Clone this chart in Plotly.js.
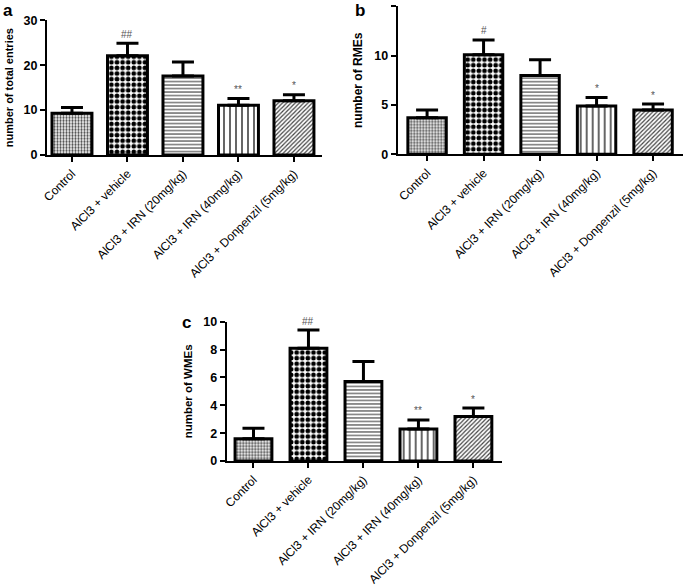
<!DOCTYPE html>
<html>
<head>
<meta charset="utf-8">
<script src="https://cdn.plot.ly/plotly-3.0.1.min.js"></script>
<style>
html,body{margin:0;padding:0;background:#fff;}
#chart{width:685px;height:585px;}
</style>
</head>
<body>
<div id="chart"></div>
<script>
// ---- data ----
const categories = ["Control", "AlCl3 + vehicle", "AlCl3 + IRN (20mg/kg)", "AlCl3 + IRN (40mg/kg)", "AlCl3 + Donpenzil (5mg/kg)"];
const totalEntries = [9.3, 22.1, 17.6, 11.1, 12.1];
const totalEntriesSem = [1.3, 2.8, 3.1, 1.5, 1.3];
const rmes = [3.7, 10.1, 8.0, 4.9, 4.5];
const rmesSem = [0.8, 1.5, 1.6, 0.85, 0.6];
const wmes = [1.6, 8.1, 5.7, 2.3, 3.2];
const wmesSem = [0.75, 1.3, 1.45, 0.65, 0.6];
const signifA = ["", "##", "", "**", "*"];
const signifB = ["", "#", "", "*", "*"];
const signifC = ["", "##", "", "**", "*"];
const panelLetters = ["a", "b", "c"];
const yTitles = ["number of total entries", "number of RMEs", "number of WMEs"];

// ---- styling ----
const FONT = "Liberation Sans, Arial, sans-serif";
const patterns = [
  {shape: ".", size: 3, solidity: 0.45, fgcolor: "#444", bgcolor: "#fff"},
  {shape: ".", size: 5.6, solidity: 0.55, fgcolor: "#000", bgcolor: "#fff"},
  {shape: "-", size: 3.5, solidity: 0.35, fgcolor: "#555", bgcolor: "#fff"},
  {shape: "|", size: 6, solidity: 0.2, fgcolor: "#000", bgcolor: "#fff"},
  {shape: "/", size: 3, solidity: 0.4, fgcolor: "#444", bgcolor: "#fff"}
];

const panels = [
  {vals: totalEntries, sem: totalEntriesSem, sig: signifA, xs: "x", ys: "y", width: 0.72},
  {vals: rmes, sem: rmesSem, sig: signifB, xs: "x2", ys: "y2", width: 0.68},
  {vals: wmes, sem: wmesSem, sig: signifC, xs: "x3", ys: "y3", width: 0.67}
];

const traces = [];
const annotations = [];
panels.forEach((p, pi) => {
  categories.forEach((c, i) => {
    traces.push({
      type: "bar",
      x: [c], y: [p.vals[i]],
      xaxis: p.xs, yaxis: p.ys,
      width: p.width,
      marker: {color: "#fff", line: {color: "#000", width: 3}, pattern: patterns[i]},
      error_y: {type: "data", symmetric: false, array: [p.sem[i]], arrayminus: [0],
                color: "#000", thickness: 3, width: 11},
      showlegend: false, hoverinfo: "skip"
    });
    if (p.sig[i]) {
      annotations.push({
        xref: p.xs, yref: p.ys, x: c, y: p.vals[i] + p.sem[i],
        text: p.sig[i], showarrow: false, yanchor: "middle", yshift: 9,
        font: {family: FONT, size: 10, color: "#555"}
      });
    }
  });
});

function xAxis(domain, range, anchor) {
  return {domain, range, anchor, type: "category", showline: true, linewidth: 2, linecolor: "#000",
    ticks: "outside", ticklen: 5, tickwidth: 2, tickcolor: "#000", tickangle: -45,
    tickfont: {family: FONT, size: 12, color: "#000"}, showgrid: false, zeroline: false, fixedrange: true};
}
function yAxis(domain, range, dtick, anchor, title, standoff, tsize) {
  return {domain, range, dtick, anchor, showline: true, linewidth: 2, linecolor: "#000",
    ticks: "outside", ticklen: 5, tickwidth: 2, tickcolor: "#000",
    tickfont: {family: FONT, size: 12.5, color: "#000", weight: "bold"},
    title: {text: title, standoff, font: {family: FONT, size: tsize, color: "#000", weight: "bold"}},
    showgrid: false, zeroline: false, fixedrange: true};
}

const W = 685, H = 585;
const layout = {
  width: W, height: H,
  margin: {l: 0, r: 0, t: 0, b: 0},
  paper_bgcolor: "#fff", plot_bgcolor: "#fff",
  showlegend: false,
  xaxis: xAxis([47 / W, 321.7 / W], [-0.45, 4.5], "y"),
  yaxis: yAxis([1 - 155 / H, 1 - 20.3 / H], [0, 30], 10, "x", yTitles[0], 8, 11),
  xaxis2: xAxis([397.7 / W, 683 / W], [-0.52, 4.53], "y2"),
  yaxis2: yAxis([1 - 154.3 / H, 1 - 6.4 / H], [0, 15], 5, "x2", yTitles[1], 9, 12),
  xaxis3: xAxis([226.7 / W, 502 / W], [-0.487, 4.52], "y3"),
  yaxis3: yAxis([1 - 461 / H, 1 - 321.7 / H], [0, 10], 2, "x3", yTitles[2], 8, 11.5),
  annotations: annotations.concat([
    {xref: "paper", yref: "paper", x: 8 / W, y: 1 - 10 / H, text: panelLetters[0], showarrow: false,
     xanchor: "center", yanchor: "middle", font: {family: FONT, size: 17, color: "#000", weight: "bold"}},
    {xref: "paper", yref: "paper", x: 360 / W, y: 1 - 10 / H, text: panelLetters[1], showarrow: false,
     xanchor: "center", yanchor: "middle", font: {family: FONT, size: 17, color: "#000", weight: "bold"}},
    {xref: "paper", yref: "paper", x: 187 / W, y: 1 - 322 / H, text: panelLetters[2], showarrow: false,
     xanchor: "center", yanchor: "middle", font: {family: FONT, size: 17, color: "#000", weight: "bold"}}
  ])
};

Plotly.newPlot("chart", traces, layout, {staticPlot: true, displayModeBar: false});
</script>
</body>
</html>
